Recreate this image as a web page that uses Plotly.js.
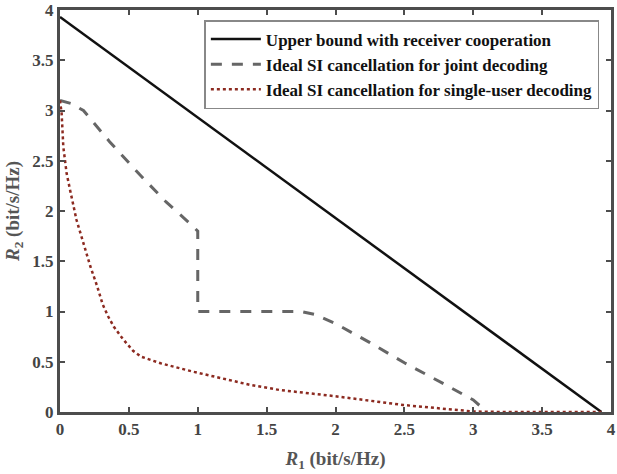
<!DOCTYPE html>
<html>
<head>
<meta charset="utf-8">
<script src="https://cdn.plot.ly/plotly-3.0.1.min.js"></script>
<style>html,body{margin:0;padding:0;background:#fff;}#chart{width:617px;height:474px;}</style>
</head>
<body>
<div id="chart"></div>
<script>
// Series names
const seriesNames = [
  'Upper bound with receiver cooperation',
  'Ideal SI cancellation for joint decoding',
  'Ideal SI cancellation for single-user decoding'
];
// Upper bound with receiver cooperation
const upperR1 = [0, 3.93];
const upperR2 = [3.93, 0];
// Ideal SI cancellation for joint decoding
const jointR1 = [0, 0.08, 0.17, 0.36, 0.58, 0.77, 0.94, 1.0, 1.0, 1.75, 1.85, 2.0, 2.25, 2.5, 2.8, 2.95, 3.0, 3.1];
const jointR2 = [3.1, 3.07, 3.0, 2.69, 2.36, 2.09, 1.88, 1.8, 1.0, 1.0, 0.97, 0.88, 0.69, 0.49, 0.27, 0.16, 0.12, 0];
// Ideal SI cancellation for single-user decoding
const singleR1 = [0, 0.012, 0.024, 0.048, 0.073, 0.12, 0.17, 0.22, 0.27, 0.31, 0.35, 0.39, 0.46, 0.53, 0.59, 0.73, 0.97, 1.21, 1.38, 1.59, 1.98, 2.49, 2.83, 3.0, 3.2, 3.93];
const singleR2 = [3.1, 2.97, 2.64, 2.375, 2.21, 1.91, 1.68, 1.45, 1.25, 1.07, 0.95, 0.85, 0.72, 0.61, 0.55, 0.485, 0.4, 0.32, 0.27, 0.22, 0.16, 0.07, 0.027, 0.005, 0, 0];
// Axis ticks
const tickVals = [0, 0.5, 1, 1.5, 2, 2.5, 3, 3.5, 4];
const tickText = ['0', '0.5', '1', '1.5', '2', '2.5', '3', '3.5', '4'];

const font = 'Liberation Serif, Times New Roman, serif';
const traces = [
  {x: upperR1, y: upperR2, name: seriesNames[0], mode: 'lines',
   line: {color: '#111111', width: 2.5}},
  {x: jointR1, y: jointR2, name: seriesNames[1], mode: 'lines',
   line: {color: '#666666', width: 3, dash: '11px,10px'}},
  {x: singleR1, y: singleR2, name: seriesNames[2], mode: 'lines',
   line: {color: '#8c2a20', width: 2.5, dash: 'dot'}}
];
const axisCommon = {
  range: [0, 4], tickvals: tickVals, ticktext: tickText,
  showgrid: false, zeroline: false, showline: true, mirror: 'allticks',
  linecolor: '#4d4d4d', linewidth: 3, ticks: 'inside', ticklen: 5, tickwidth: 2,
  tickcolor: '#4d4d4d',
  tickfont: {family: font, size: 17, color: '#444444', weight: 'bold'}
};
const layout = {
  width: 617, height: 474,
  margin: {l: 60, r: 6, t: 10, b: 62},
  paper_bgcolor: '#ffffff', plot_bgcolor: '#ffffff',
  showlegend: true,
  legend: {x: 0.262, y: 0.975, xanchor: 'left', yanchor: 'top',
    bgcolor: '#ffffff', bordercolor: '#888888', borderwidth: 1.5,
    itemwidth: 50,
    font: {family: font, size: 17, color: '#111111', weight: 'bold'},
    tracegroupgap: 0},
  xaxis: Object.assign({}, axisCommon, {
    title: {text: '<i>R</i><sub>1</sub> (bit/s/Hz)', standoff: 14,
      font: {family: font, size: 19, color: '#555555', weight: 'bold'}}
  }),
  yaxis: Object.assign({}, axisCommon, {
    title: {text: '<i>R</i><sub>2</sub> (bit/s/Hz)', standoff: 8,
      font: {family: font, size: 19, color: '#555555', weight: 'bold'}}
  })
};
Plotly.newPlot('chart', traces, layout, {displayModeBar: false, staticPlot: true});
</script>
</body>
</html>
